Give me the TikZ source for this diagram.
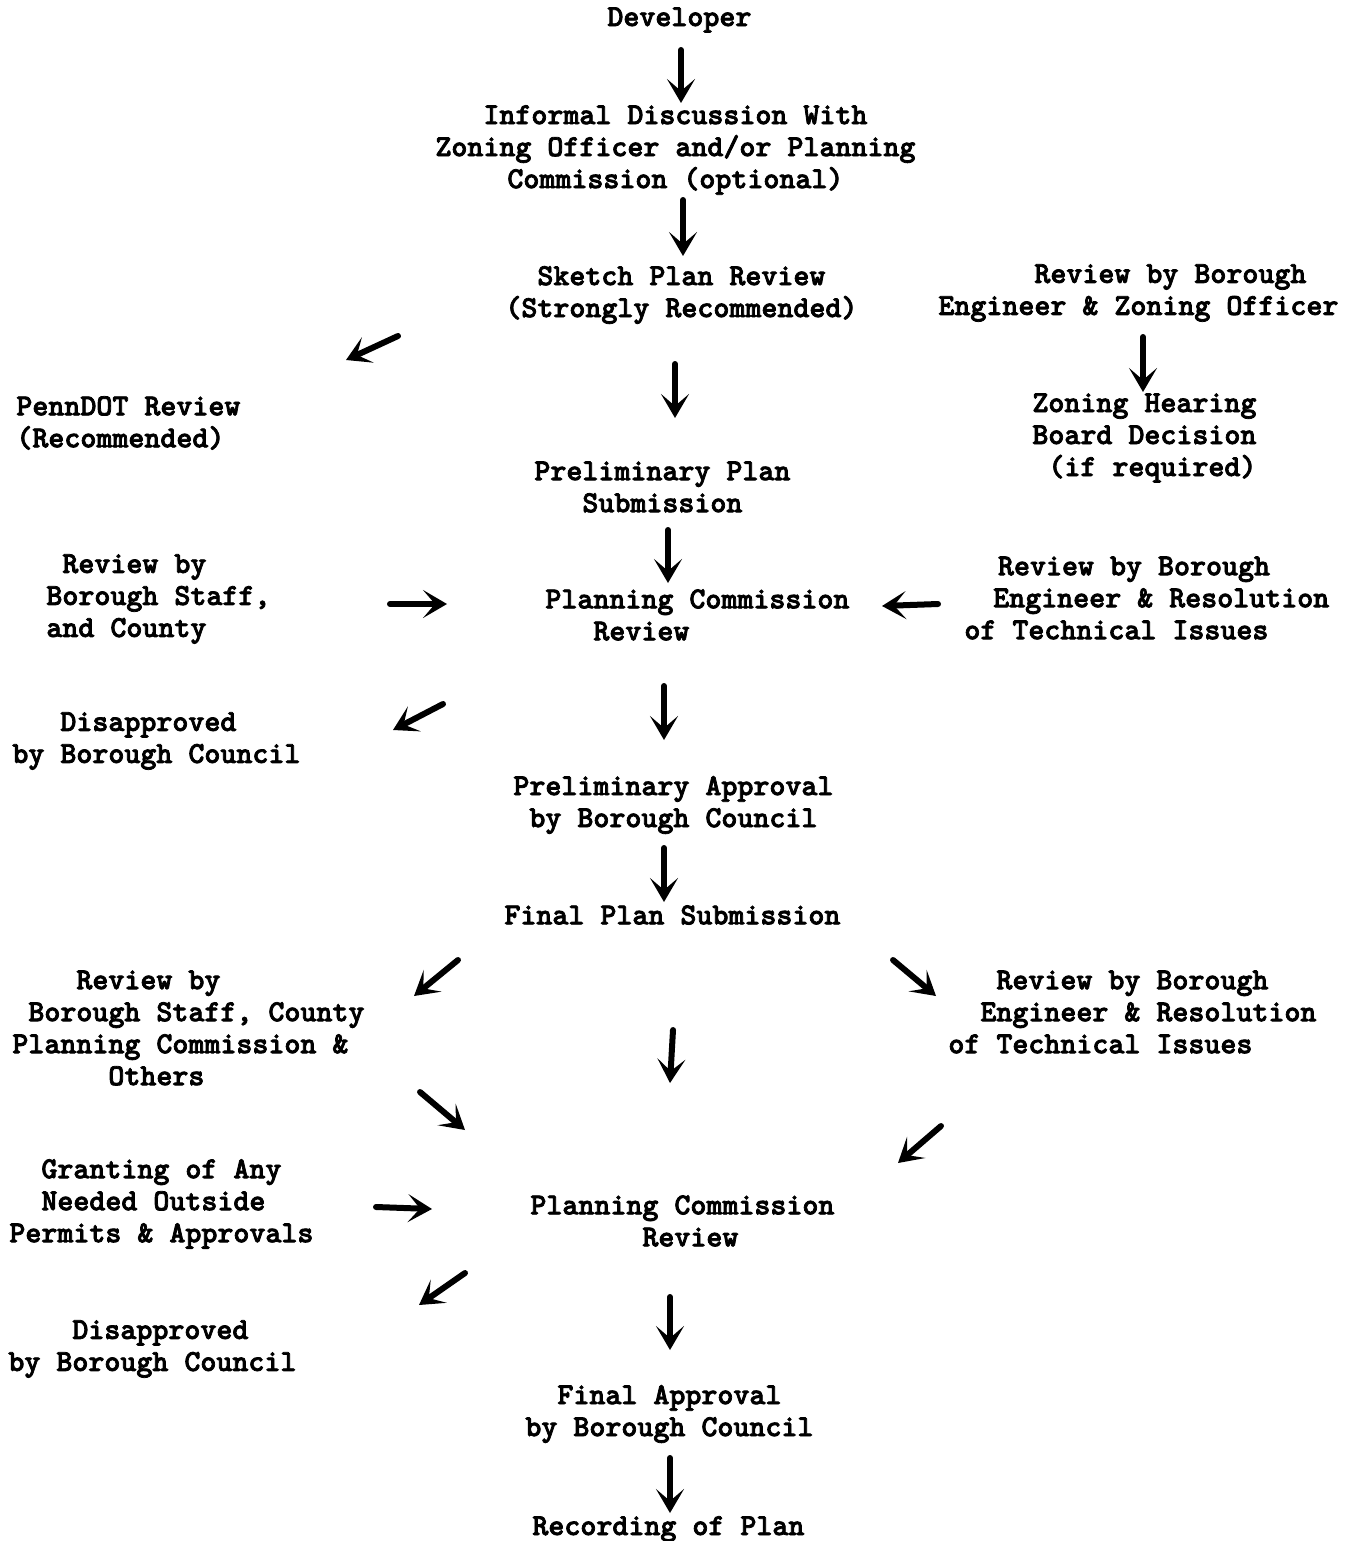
\documentclass[tikz,border=0pt]{standalone}
\usepackage{fontspec}
\newfontfamily\typefont{lmmonolt10-bold.otf}[FakeBold=2.5]
\usetikzlibrary{arrows.meta}
\newlength\chw
\setlength\chw{8pt}
\newcommand\ind[1]{\hspace*{#1\chw}}

\begin{document}
\begin{tikzpicture}[x=0.5pt,y=-0.5pt,
  stage/.style={font={\fontsize{15.24pt}{16pt}\typefont\bfseries},
    align=left,inner sep=0pt,anchor=west},
  flow/.style={line width=3pt,line cap=round,
    -{Stealth[length=12pt,width=14pt,inset=6pt]}}]
  \useasboundingbox (0,0) rectangle (1349,1541);
  \node[stage] (dev)   at (607,20)   {Developer};
  \node[stage] (inf)   at (435,150)  {\ind{3}Informal Discussion With\\Zoning Officer and/or Planning\\\ind{4.5}Commission (optional)};
  \node[stage] (sketch) at (505,295) {\ind{2}Sketch Plan Review\\(Strongly Recommended)};
  \node[stage] (engzo) at (938,293)  {\ind{6}Review by Borough\\Engineer \& Zoning Officer};
  \node[stage] (penn)  at (16,423)   {PennDOT Review\\(Recommended)};
  \node[stage] (zhb)   at (1032,438) {Zoning Hearing\\Board Decision\\\ind{1}(if required)};
  \node[stage] (prelim) at (534,487) {Preliminary Plan\\\ind{3}Submission};
  \node[stage] (staff) at (46,599)   {\ind{1}Review by\\Borough Staff,\\and County};
  \node[stage] (pcA)   at (545,615)  {Planning Commission\\\ind{3}Review};
  \node[stage] (engA)  at (964,598)  {\ind{2.1}Review by Borough\\\ind{1.8}Engineer \& Resolution\\of Technical Issues};
  \node[stage] (disA)  at (12,741)   {\ind{3}Disapproved\\by Borough Council};
  \node[stage] (papp)  at (513,805)  {Preliminary Approval\\\ind{1}by Borough Council};
  \node[stage] (fps)   at (504,915)  {Final Plan Submission};
  \node[stage] (staffB) at (12,1028) {\ind{4}Review by\\\ind{1}Borough Staff, County\\Planning Commission \&\\\ind{6}Others};
  \node[stage] (engB)  at (948,1012) {\ind{3}Review by Borough\\\ind{2}Engineer \& Resolution\\of Technical Issues};
  \node[stage] (grant) at (9,1204)   {\ind{2}Granting of Any\\\ind{2}Needed Outside\\Permits \& Approvals};
  \node[stage] (pcB)   at (530,1221) {Planning Commission\\\ind{7}Review};
  \node[stage] (disB)  at (8,1349)   {\ind{4}Disapproved\\by Borough Council};
  \node[stage] (fapp)  at (525,1414) {\ind{2}Final Approval\\by Borough Council};
  \node[stage] (rec)   at (532,1529) {Recording of Plan};
  % arrow ends
  \foreach \n/\x/\y in {dev-o/681/50, inf-i/681/103, inf-o/683/200, sketch-i/683/256,
      sketch-l/398/336, penn-i/346/360, sketch-o/675/364, prelim-i/675/418,
      engzo-o/1143/337, zhb-i/1143/392, prelim-o/668/530, pcA-n/668/583,
      staff-o/390/604, pcA-w/447/604, engA-o/938/604, pcA-e/882/606,
      pcA-sw/443/704, disA-i/393/730, pcA-s/664/686, papp-i/664/740,
      papp-o/664/848, fps-i/664/902, fps-sw/458/960, staffB-i/414/996,
      fps-se/893/960, engB-i/936/996, fps-s/673/1030, pcB-n/670/1083,
      staffB-o/420/1092, pcB-nw/465/1130, engB-o/941/1126, pcB-ne/898/1163,
      grant-o/376/1207, pcB-w/432/1209, pcB-sw/465/1273, disB-i/419/1305,
      pcB-s/670/1297, fapp-i/670/1350, fapp-o/670/1458, rec-i/670/1513}
    \coordinate (\n) at (\x,\y);
  \path[flow]
  (dev-o) edge (inf-i)
  (inf-o) edge (sketch-i)
  (sketch-l) edge (penn-i)
  (sketch-o) edge (prelim-i)
  (engzo-o) edge (zhb-i)
  (prelim-o) edge (pcA-n)
  (staff-o) edge (pcA-w)
  (engA-o) edge (pcA-e)
  (pcA-sw) edge (disA-i)
  (pcA-s) edge (papp-i)
  (papp-o) edge (fps-i)
  (fps-sw) edge (staffB-i)
  (fps-se) edge (engB-i)
  (fps-s) edge (pcB-n)
  (staffB-o) edge (pcB-nw)
  (engB-o) edge (pcB-ne)
  (grant-o) edge (pcB-w)
  (pcB-sw) edge (disB-i)
  (pcB-s) edge (fapp-i)
  (fapp-o) edge (rec-i)
  ;
\end{tikzpicture}
\end{document}
